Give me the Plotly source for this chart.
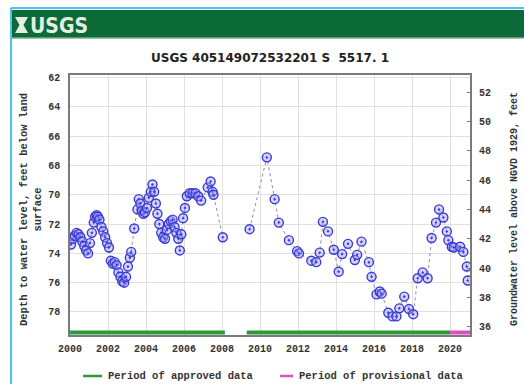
import plotly.graph_objects as go

# Groundwater level record for well 405149072532201 (S 5517.1)
# decimal year of measurement, depth to water (ft below land surface)
years = [
    2000.05, 2000.15, 2000.25, 2000.35, 2000.45, 2000.55, 2000.65, 2000.75, 2000.85, 2000.95,
    2001.05, 2001.15, 2001.25, 2001.32, 2001.40, 2001.47, 2001.55, 2001.65, 2001.75, 2001.85,
    2001.95, 2002.05, 2002.15, 2002.25, 2002.35, 2002.45, 2002.55, 2002.65, 2002.75, 2002.85,
    2002.95, 2003.05, 2003.15, 2003.22, 2003.38, 2003.55, 2003.62, 2003.70, 2003.78, 2003.86,
    2003.95, 2004.05, 2004.15, 2004.25, 2004.34, 2004.43, 2004.52, 2004.60, 2004.70, 2004.80,
    2004.90, 2005.00, 2005.10, 2005.20, 2005.30, 2005.40, 2005.50, 2005.60, 2005.70, 2005.78,
    2005.86, 2005.95, 2006.05, 2006.15, 2006.30, 2006.45, 2006.60, 2006.75, 2006.90, 2007.25,
    2007.40, 2007.50, 2007.55, 2008.04,
    None,
    2009.45, 2010.36, 2010.77, 2010.99, 2011.52, 2011.95, 2012.05, 2012.70, 2012.96, 2013.14,
    2013.31, 2013.58, 2013.88, 2014.14, 2014.32, 2014.63, 2014.99, 2015.11, 2015.34, 2015.73,
    2015.87, 2016.13, 2016.30, 2016.40, 2016.75, 2016.97, 2017.18, 2017.33, 2017.59, 2017.84,
    2018.06, 2018.30, 2018.56, 2018.82, 2019.03, 2019.26, 2019.42, 2019.65, 2019.83, 2019.91,
    2020.09, 2020.20, 2020.53, 2020.70, 2020.88, 2020.93,
]
depth_ft = [
    73.4, 73.0, 72.8, 72.6, 72.7, 72.9, 73.2, 73.5, 73.8, 74.0,
    73.3, 72.6, 71.9, 71.5, 71.4, 71.5, 71.7, 72.2, 72.5, 72.9,
    73.3, 73.6, 74.5, 74.7, 74.6, 74.8, 75.3, 75.6, 75.9, 76.0,
    75.6, 74.9, 74.3, 73.9, 72.3, 71.0, 70.3, 70.6, 71.1, 71.3,
    71.2, 70.9, 70.2, 69.8, 69.3, 69.8, 70.6, 71.3, 72.0, 72.6,
    72.9, 73.0, 72.4, 72.0, 71.8, 71.7, 72.2, 72.6, 73.0, 73.8,
    72.7, 71.6, 70.9, 70.1, 69.9, 69.9, 69.9, 70.1, 70.4, 69.5,
    69.1, 69.8, 70.0, 72.9,
    None,
    72.35, 67.45, 70.3, 71.9, 73.1, 73.85, 74.0, 74.5, 74.6, 73.95,
    71.85, 72.5, 73.75, 75.25, 74.05, 73.35, 74.45, 74.1, 73.2, 74.6,
    75.6, 76.8, 76.6, 76.75, 78.05, 78.3, 78.3, 77.75, 76.95, 77.8,
    78.15, 75.7, 75.3, 75.7, 72.95, 71.9, 71.0, 71.55, 72.5, 73.1,
    73.55, 73.6, 73.55, 73.9, 74.9, 75.85,
]

# Data-approval periods (decimal years)
approved_periods = [(2000.0, 2008.15), (2009.3, 2020.0)]
provisional_periods = [(2020.0, 2021.05)]

land_surface_ft = 115.0          # land-surface altitude above NGVD 1929
x_range = [2000.0, 2021.05]
depth_range = [79.57, 61.83]     # reversed: depth grows downward
year_ticks = list(range(2000, 2021, 2))
depth_ticks = list(range(62, 80, 2))
elev_ticks = list(range(36, 54, 2))
status_band_depth = 79.40

W, H = 524, 384
L, R, T, B = 70, 470, 75, 335


def px(x):
    return (x - L) / (R - L)


def py(y):
    return (B - y) / (B - T)


fig = go.Figure()

# period-of-record status band along the bottom of the plot
for a, b in approved_periods:
    fig.add_trace(go.Scatter(
        x=[a, b], y=[status_band_depth] * 2, mode="lines",
        line=dict(color="#2f9a35", width=4), hoverinfo="skip",
        showlegend=False))
for a, b in provisional_periods:
    fig.add_trace(go.Scatter(
        x=[a, b], y=[status_band_depth] * 2, mode="lines",
        line=dict(color="#d94fc4", width=4), hoverinfo="skip",
        showlegend=False))

# water-level measurements
fig.add_trace(go.Scatter(
    x=years, y=depth_ft, mode="lines+markers",
    line=dict(color="#8c8cb4", width=1, dash="dot"),
    marker=dict(symbol="circle-dot", size=9,
                color="rgba(160,160,255,0.45)",
                line=dict(color="#3b3bd2", width=1.4)),
    connectgaps=False, showlegend=False))

# invisible trace to carry the right-hand elevation axis
fig.add_trace(go.Scatter(
    x=[x_range[0]], y=[land_surface_ft - depth_range[0]], yaxis="y2",
    mode="markers", marker=dict(opacity=0), hoverinfo="skip",
    showlegend=False))

tick_font = dict(family="Liberation Mono, DejaVu Sans Mono, monospace",
                 size=10, color="#333333", weight="bold")
label_font = dict(family="Liberation Mono, DejaVu Sans Mono, monospace",
                  size=10.5, color="#333333", weight="bold")

fig.update_layout(
    width=W, height=H,
    margin=dict(l=L, r=W - R, t=T, b=H - B, pad=0),
    paper_bgcolor="white", plot_bgcolor="white",
    showlegend=False,
    xaxis=dict(range=x_range, tickmode="array", tickvals=year_ticks,
               ticktext=[str(v) for v in year_ticks],
               showgrid=True, gridcolor="#e0e0e0", gridwidth=1,
               zeroline=False, showline=True, linecolor="#7a7a7a",
               linewidth=1.5, mirror=True, ticks="",
               ticklabelstandoff=3, tickfont=tick_font),
    yaxis=dict(range=depth_range, tickmode="array", tickvals=depth_ticks,
               showgrid=True, gridcolor="#e0e0e0", gridwidth=1,
               zeroline=False, showline=True, linecolor="#7a7a7a",
               linewidth=1.5, mirror=True, ticks="",
               ticklabelstandoff=6, tickfont=tick_font),
    yaxis2=dict(range=[land_surface_ft - depth_range[0],
                       land_surface_ft - depth_range[1]],
                overlaying="y", side="right", tickmode="array",
                tickvals=elev_ticks, showgrid=False, zeroline=False,
                ticks="inside", ticklen=3, tickcolor="#7a7a7a",
                ticklabelstandoff=8, tickfont=tick_font),
    title=dict(text="USGS 405149072532201 S  5517. 1",
               x=270 / W, xanchor="center", y=1 - 58 / H, yanchor="middle",
               font=dict(family="DejaVu Sans, sans-serif",
                         size=12, color="#222222", weight="bold")),
)

shapes = [
    # banner
    dict(type="rect", xref="paper", yref="paper",
         x0=px(12), x1=px(W + 2), y0=py(38), y1=py(10),
         fillcolor="#0b6a37", line=dict(width=0), layer="above"),
    dict(type="line", xref="paper", yref="paper",
         x0=px(12), x1=px(W + 2), y0=py(38), y1=py(38),
         line=dict(color="#7fae8f", width=1.5)),
    # logo mark
    dict(type="path", xref="paper", yref="paper",
         path=(f"M {px(15)},{py(17)} L {px(28)},{py(17)} L {px(23.5)},{py(25)} "
               f"L {px(28)},{py(33)} L {px(15)},{py(33)} L {px(19.5)},{py(25)} Z"),
         fillcolor="#e3efe3", line=dict(width=0), layer="above"),
    # outer frame
    dict(type="line", xref="paper", yref="paper",
         x0=px(11), x1=px(W + 2), y0=py(8), y1=py(8),
         line=dict(color="#4cc3ee", width=2)),
    dict(type="line", xref="paper", yref="paper",
         x0=px(11), x1=px(11), y0=py(8), y1=py(H + 2),
         line=dict(color="#4cc3ee", width=2)),
    # key swatches
    dict(type="line", xref="paper", yref="paper",
         x0=px(83), x1=px(102), y0=py(376), y1=py(376),
         line=dict(color="#2f9a35", width=2.5)),
    dict(type="line", xref="paper", yref="paper",
         x0=px(280), x1=px(293), y0=py(376), y1=py(376),
         line=dict(color="#d94fc4", width=2.5)),
]
fig.update_layout(shapes=shapes)

annotations = [
    dict(text="USGS", x=px(28), y=py(25.5), xanchor="left", yanchor="middle",
         font=dict(family="Liberation Sans Narrow, DejaVu Sans Condensed, sans-serif",
                   size=21, color="#e3efe3", weight="bold")),
    dict(text="Depth to water level, feet below land<br>surface",
         x=px(31), y=py(210), xanchor="center", yanchor="middle",
         textangle=-90, font=label_font),
    dict(text="Groundwater level above NGVD 1929, feet",
         x=px(514), y=py(209), xanchor="center", yanchor="middle",
         textangle=-90, font=dict(label_font, size=10)),
    dict(text="Period of approved data", x=px(106), y=py(376),
         xanchor="left", yanchor="middle", font=label_font),
    dict(text="Period of provisional data", x=px(297), y=py(376),
         xanchor="left", yanchor="middle", font=label_font),
]
for a in annotations:
    a.update(xref="paper", yref="paper", showarrow=False)
fig.update_layout(annotations=annotations)

fig.write_html("out.html")
